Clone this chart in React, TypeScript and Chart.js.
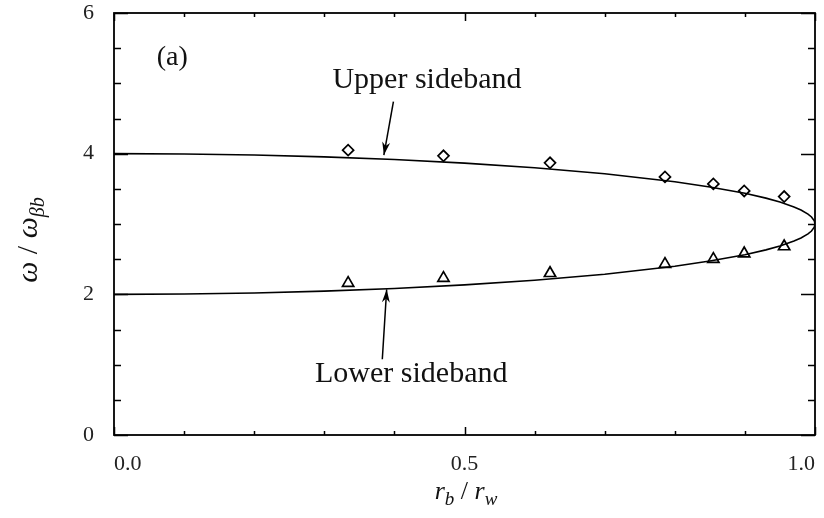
import React, { useEffect, useRef } from "react";
import { Chart, registerables } from "chart.js";

Chart.register(...registerables);

// Theory curve (r_b / r_w, ω / ω_βb)
const curveR = [0, 0.1, 0.2, 0.3, 0.4, 0.5, 0.6, 0.7, 0.8, 0.85, 0.9, 0.93, 0.95, 0.97, 0.98, 0.99, 0.995, 0.999, 1.0];
const upperCurve = [4.0, 3.995, 3.98, 3.954, 3.917, 3.866, 3.8, 3.714, 3.6, 3.527, 3.436, 3.368, 3.312, 3.243, 3.199, 3.141, 3.1, 3.045, 3.0];
const lowerCurve = [2.0, 2.005, 2.02, 2.046, 2.083, 2.134, 2.2, 2.286, 2.4, 2.473, 2.564, 2.632, 2.688, 2.757, 2.801, 2.859, 2.9, 2.955, 3.0];

// Simulation points
const simR = [0.334, 0.47, 0.622, 0.786, 0.855, 0.899, 0.956];
const simUpper = [4.05, 3.97, 3.87, 3.67, 3.57, 3.47, 3.39];
const simLower = [2.16, 2.23, 2.3, 2.43, 2.5, 2.58, 2.68];

// Axis ranges / ticks
const xMin = 0, xMax = 1, xLabelStep = 0.5, xMinorStep = 0.1;
const yMin = 0, yMax = 6, yLabelStep = 2, yMinorStep = 0.5;

const SERIF = "'Liberation Serif', 'DejaVu Serif', serif";

const decorPlugin = {
  id: "decor",
  afterDraw(chart: any) {
    const { ctx, chartArea: ca, scales } = chart;
    const xs = scales.x, ys = scales.y;
    ctx.save();
    ctx.strokeStyle = "#000";
    ctx.fillStyle = "#000";
    // frame
    ctx.lineWidth = 1.8;
    ctx.strokeRect(ca.left, ca.top, ca.right - ca.left, ca.bottom - ca.top);
    // ticks
    ctx.lineWidth = 1.5;
    ctx.beginPath();
    for (let i = 0; i <= Math.round((xMax - xMin) / xMinorStep); i++) {
      const v = xMin + i * xMinorStep;
      const major = Math.abs(v / xLabelStep - Math.round(v / xLabelStep)) < 1e-6;
      const L = major ? 8 : 4;
      const px = Math.round(xs.getPixelForValue(v)) + 0.5;
      ctx.moveTo(px, ca.bottom); ctx.lineTo(px, ca.bottom - L);
      ctx.moveTo(px, ca.top); ctx.lineTo(px, ca.top + L);
    }
    for (let i = 0; i <= Math.round((yMax - yMin) / yMinorStep); i++) {
      const v = yMin + i * yMinorStep;
      const major = Math.abs(v / yLabelStep - Math.round(v / yLabelStep)) < 1e-6;
      const L = major ? 14 : 7;
      const py = Math.round(ys.getPixelForValue(v)) + 0.5;
      ctx.moveTo(ca.left, py); ctx.lineTo(ca.left + L, py);
      ctx.moveTo(ca.right, py); ctx.lineTo(ca.right - L, py);
    }
    ctx.stroke();

    // texts
    ctx.fillStyle = "#111";
    ctx.textBaseline = "middle";
    ctx.font = `28px ${SERIF}`;
    ctx.textAlign = "left";
    ctx.fillText("(a)", xs.getPixelForValue(0.061), ys.getPixelForValue(5.36));
    ctx.font = `30px ${SERIF}`;
    ctx.textAlign = "center";
    ctx.fillText("Upper sideband", xs.getPixelForValue(0.4465), ys.getPixelForValue(5.05));
    ctx.fillText("Lower sideband", xs.getPixelForValue(0.424), ys.getPixelForValue(0.87));

    // arrows
    const arrow = (x0: number, y0: number, x1: number, y1: number) => {
      const ax = xs.getPixelForValue(x0), ay = ys.getPixelForValue(y0);
      const bx = xs.getPixelForValue(x1), by = ys.getPixelForValue(y1);
      ctx.lineWidth = 1.5;
      ctx.strokeStyle = "#000";
      ctx.beginPath(); ctx.moveTo(ax, ay); ctx.lineTo(bx, by); ctx.stroke();
      const ang = Math.atan2(by - ay, bx - ax);
      const len = 13, w = 4;
      const cx = bx - len * Math.cos(ang), cy = by - len * Math.sin(ang);
      const nx = -Math.sin(ang), ny = Math.cos(ang);
      const mx = bx - len * 0.7 * Math.cos(ang), my = by - len * 0.7 * Math.sin(ang);
      ctx.beginPath();
      ctx.moveTo(bx, by);
      ctx.lineTo(cx + nx * w, cy + ny * w);
      ctx.lineTo(mx, my);
      ctx.lineTo(cx - nx * w, cy - ny * w);
      ctx.closePath();
      ctx.fillStyle = "#000";
      ctx.fill();
    };
    arrow(0.3986, 4.739, 0.385, 3.98);
    arrow(0.3827, 1.076, 0.389, 2.07);

    // axis titles
    ctx.fillStyle = "#111";
    ctx.textAlign = "left";
    ctx.textBaseline = "alphabetic";
    // x title: r_b / r_w
    {
      const main = `italic 26px ${SERIF}`;
      const sub = `italic 19px ${SERIF}`;
      const parts: [string, string, number][] = [
        ["r", main, 0], ["b", sub, 6], [" / ", `26px ${SERIF}`, 0], ["r", main, 0], ["w", sub, 6],
      ];
      let total = 0;
      for (const [t, f] of parts) { ctx.font = f; total += ctx.measureText(t).width; }
      let x = 466 - total / 2;
      const base = 499;
      for (const [t, f, dy] of parts) {
        ctx.font = f; ctx.fillText(t, x, base + dy); x += ctx.measureText(t).width;
      }
    }
    // y title: ω / ω_βb rotated
    {
      ctx.save();
      ctx.translate(37, 240);
      ctx.rotate(-Math.PI / 2);
      const main = `italic 30px ${SERIF}`;
      const sub = `italic 20px ${SERIF}`;
      const parts: [string, string, number][] = [
        ["ω", main, 0], [" / ", `30px ${SERIF}`, 0], ["ω", main, 0], ["βb", sub, 7],
      ];
      let total = 0;
      for (const [t, f] of parts) { ctx.font = f; total += ctx.measureText(t).width; }
      let x = -total / 2;
      for (const [t, f, dy] of parts) {
        ctx.font = f; ctx.fillText(t, x, dy); x += ctx.measureText(t).width;
      }
      ctx.restore();
    }
    ctx.restore();
  },
};

export default function App() {
  const ref = useRef<HTMLCanvasElement | null>(null);
  useEffect(() => {
    if (!ref.current) return;
    const toPts = (xs: number[], ys: number[]) => xs.map((x, i) => ({ x, y: ys[i] }));
    const chart = new Chart(ref.current, {
      type: "scatter",
      data: {
        datasets: [
          {
            label: "Upper theory",
            data: toPts(curveR, upperCurve),
            showLine: true,
            borderColor: "#000",
            borderWidth: 1.6,
            pointRadius: 0,
            fill: false,
          },
          {
            label: "Lower theory",
            data: toPts(curveR, lowerCurve),
            showLine: true,
            borderColor: "#000",
            borderWidth: 1.6,
            pointRadius: 0,
            fill: false,
          },
          {
            label: "Upper sim",
            data: toPts(simR, simUpper),
            pointStyle: "rectRot",
            pointRadius: 5.5,
            borderColor: "#000",
            borderWidth: 1.7,
            backgroundColor: "#fff",
          },
          {
            label: "Lower sim",
            data: toPts(simR, simLower),
            pointStyle: "triangle",
            pointRadius: 6.5,
            borderColor: "#000",
            borderWidth: 1.7,
            backgroundColor: "#fff",
          },
        ],
      },
      options: {
        responsive: false,
        animation: false,
        layout: { padding: { top: 13, right: 9, left: 0, bottom: 0 } },
        plugins: { legend: { display: false }, tooltip: { enabled: false } },
        scales: {
          x: {
            type: "linear",
            min: xMin,
            max: xMax,
            grid: { display: false, drawTicks: false, tickLength: 0 },
            border: { display: false },
            ticks: {
              stepSize: xLabelStep,
              align: "inner",
              padding: 16,
              color: "#222",
              font: { family: SERIF, size: 22 },
              callback: (v: any) => Number(v).toFixed(1),
            },
            afterFit: (s: any) => { s.height = 83; s.paddingLeft = 0; s.paddingRight = 0; },
          },
          y: {
            type: "linear",
            min: yMin,
            max: yMax,
            grid: { display: false, drawTicks: false, tickLength: 0 },
            border: { display: false },
            ticks: {
              stepSize: yLabelStep,
              padding: 20,
              color: "#222",
              font: { family: SERIF, size: 22 },
              callback: (v: any) => String(v),
            },
            afterFit: (s: any) => { s.width = 114; s.paddingTop = 0; s.paddingBottom = 0; },
          },
        },
      },
      plugins: [decorPlugin],
    } as any);
    return () => chart.destroy();
  }, []);
  return (
    <div style={{ position: "fixed", left: 0, top: 0, width: 824, height: 518, background: "#fff" }}>
      <canvas ref={ref} width={824} height={518} />
    </div>
  );
}
